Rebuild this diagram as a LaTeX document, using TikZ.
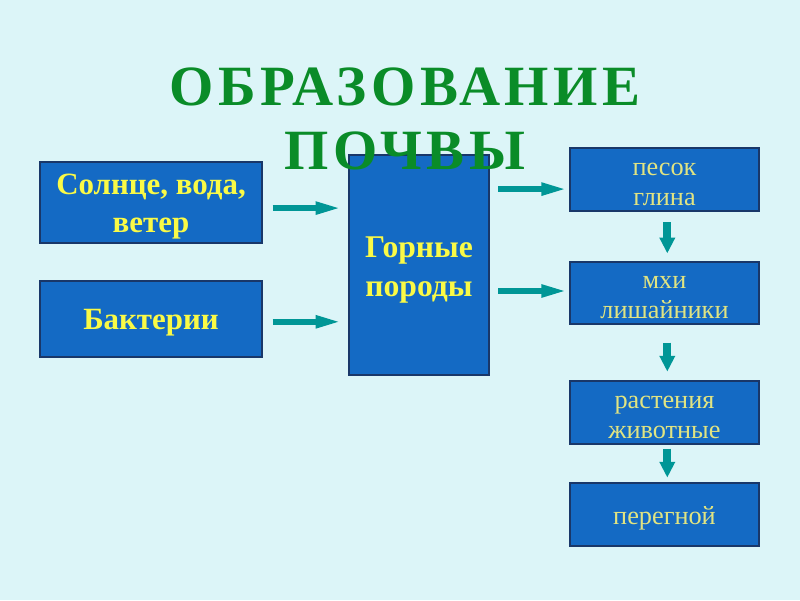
\documentclass[tikz,border=0pt]{standalone}
\usepackage{fontspec}
\setmainfont{Liberation Serif}
\newfontfamily\titlefont[LetterSpace=8]{Liberation Serif}
\usetikzlibrary{arrows.meta}
\definecolor{bgcol}{RGB}{220,245,248}
\definecolor{boxcol}{RGB}{20,106,196}
\definecolor{edgecol}{RGB}{25,55,105}
\definecolor{arrcol}{RGB}{0,150,150}
\definecolor{txtbold}{RGB}{250,250,70}
\definecolor{txtpale}{RGB}{225,228,130}
\definecolor{titlecol}{RGB}{10,140,40}

\begin{document}
\begin{tikzpicture}[
  box/.style={draw=edgecol,line width=0.8pt,fill=boxcol,inner sep=0pt},
  palebox/.style={box,minimum width=4.725cm,minimum height=1.575cm},
  boldtxt/.style={text=txtbold,font=\fontsize{22}{27.6}\selectfont\bfseries,align=center,inner sep=0pt},
  paletxt/.style={text=txtpale,font=\fontsize{18.7}{21.5}\selectfont,align=center,inner sep=0pt},
  flow/.style={arrcol,line width=4.6pt,-{Triangle[length=20pt,width=8pt]}},
  drop/.style={arrcol,line width=5.7pt,-{Triangle[length=11.3pt,width=10.6pt]}}
]
\fill[bgcol] (0,0) rectangle (20,15);
\useasboundingbox (0,0) rectangle (20,15);

\node[box,minimum width=5.55cm,minimum height=2.025cm] (sun) at (3.775,9.9375) {};
\node[box,minimum width=5.55cm,minimum height=1.9cm] (bact) at (3.775,7.025) {};
\node[box,minimum width=3.5cm,minimum height=5.5cm] (rocks) at (10.475,8.375) {};
\node[boldtxt] (sunlbl) at ([yshift=-0.1cm]sun.center) {Солнце, вода,\\ветер};
\node[boldtxt] (bactlbl) at ([yshift=-0.1cm]bact.center) {Бактерии};
\node[boldtxt,font=\fontsize{22.5}{27.6}\selectfont\bfseries] (rockslbl) at ([yshift=-0.12cm]rocks.center) {Горные\\породы};

\node[palebox] (sand) at (16.6125,10.5125) {};
\node[palebox,minimum height=1.55cm] (moss) at (16.6125,7.675) {};
\node[palebox] (plants) at (16.6125,4.6875) {};
\node[palebox] (humus) at (16.6125,2.1375) {};
\node[paletxt] (sandlbl) at ([yshift=-0.115cm]sand.center) {песок\\глина};
\node[paletxt] (mosslbl) at ([yshift=-0.115cm]moss.center) {мхи\\лишайники};
\node[paletxt] (plantslbl) at ([yshift=-0.115cm]plants.center) {растения\\животные};
\node[paletxt] (humuslbl) at ([yshift=-0.09cm]humus.center) {перегной};

\draw[flow,shorten <=0.25cm,shorten >=0.12cm] ([yshift=-0.14cm]sun.east) -- ([yshift=-0.14cm]sun.east -| rocks.west);
\draw[flow,shorten <=0.25cm,shorten >=0.12cm] ([yshift=-0.07cm]bact.east) -- ([yshift=-0.07cm]bact.east -| rocks.west);
\draw[flow,shorten <=0.22cm,shorten >=0cm] ([yshift=-0.24cm]sand.west -| rocks.east) -- ([yshift=-0.24cm]sand.west);
\draw[flow,shorten <=0.22cm,shorten >=0cm] ([yshift=0.05cm]moss.west -| rocks.east) -- ([yshift=0.05cm]moss.west);

\draw[drop,shorten <=0.27cm,shorten >=0.2cm] ([xshift=0.07cm]sand.south) -- ([xshift=0.07cm]moss.north);
\draw[drop,shorten <=0.45cm,shorten >=0.22cm] ([xshift=0.07cm]moss.south) -- ([xshift=0.07cm]plants.north);
\draw[drop,shorten <=0.1cm,shorten >=0.12cm] ([xshift=0.07cm]plants.south) -- ([xshift=0.07cm]humus.north);

\node[text=titlecol,font=\fontsize{40.5}{46}\selectfont\titlefont\bfseries,align=center] (title) at (10.12,12.03) {ОБРАЗОВАНИЕ\\ПОЧВЫ};
\end{tikzpicture}
\end{document}
